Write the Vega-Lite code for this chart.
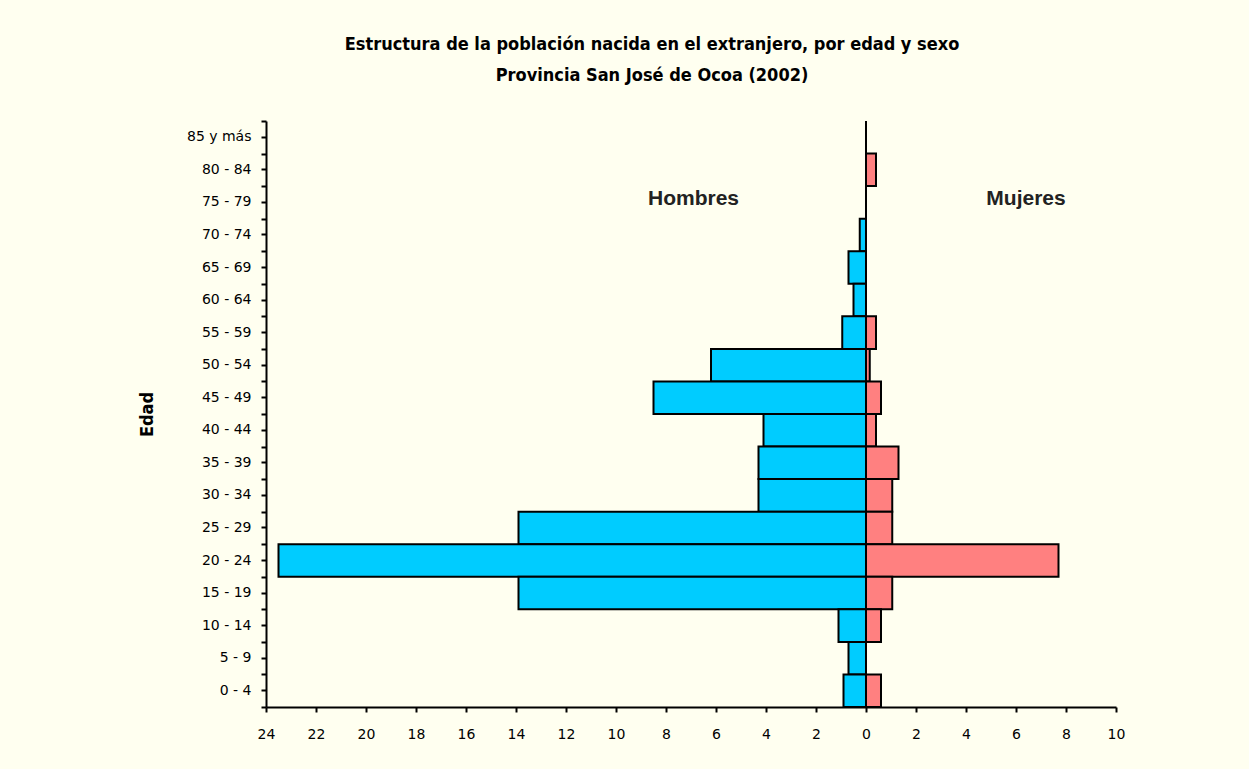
{
  "$schema": "https://vega.github.io/schema/vega-lite/v6.json",
  "autosize": {"type": "none"},
  "width": 850,
  "height": 586,
  "padding": {"left": 266, "top": 121, "right": 133, "bottom": 62},
  "background": "#fffff0",
  "title": {
    "text": ["Estructura de la población nacida en el extranjero, por edad y sexo", "Provincia San José de Ocoa (2002)"],
    "font": "DejaVu Sans Condensed, Roboto",
    "fontSize": 18,
    "fontWeight": "bold",
    "color": "#000000",
    "anchor": "middle",
    "frame": "group",
    "dx": -39,
    "offset": 35,
    "lineHeight": 31
  },
  "config": {
    "view": {"stroke": null, "fill": "#fffff0"},
    "axis": {
      "domainColor": "#000000",
      "domainWidth": 2,
      "tickColor": "#000000",
      "tickWidth": 2,
      "tickSize": 5,
      "labelColor": "#000000",
      "labelFont": "DejaVu Sans",
      "labelFontSize": 14,
      "grid": false
    }
  },
  "data": {
    "values": [
      {"edad": "85 y más", "sexo": "Hombres", "valor": 0},
      {"edad": "85 y más", "sexo": "Mujeres", "valor": 0},
      {"edad": "80 - 84", "sexo": "Hombres", "valor": 0},
      {"edad": "80 - 84", "sexo": "Mujeres", "valor": 0.4},
      {"edad": "75 - 79", "sexo": "Hombres", "valor": 0},
      {"edad": "75 - 79", "sexo": "Mujeres", "valor": 0},
      {"edad": "70 - 74", "sexo": "Hombres", "valor": -0.25},
      {"edad": "70 - 74", "sexo": "Mujeres", "valor": 0},
      {"edad": "65 - 69", "sexo": "Hombres", "valor": -0.7},
      {"edad": "65 - 69", "sexo": "Mujeres", "valor": 0},
      {"edad": "60 - 64", "sexo": "Hombres", "valor": -0.5},
      {"edad": "60 - 64", "sexo": "Mujeres", "valor": 0},
      {"edad": "55 - 59", "sexo": "Hombres", "valor": -0.95},
      {"edad": "55 - 59", "sexo": "Mujeres", "valor": 0.4},
      {"edad": "50 - 54", "sexo": "Hombres", "valor": -6.2},
      {"edad": "50 - 54", "sexo": "Mujeres", "valor": 0.15},
      {"edad": "45 - 49", "sexo": "Hombres", "valor": -8.5},
      {"edad": "45 - 49", "sexo": "Mujeres", "valor": 0.6},
      {"edad": "40 - 44", "sexo": "Hombres", "valor": -4.1},
      {"edad": "40 - 44", "sexo": "Mujeres", "valor": 0.4},
      {"edad": "35 - 39", "sexo": "Hombres", "valor": -4.3},
      {"edad": "35 - 39", "sexo": "Mujeres", "valor": 1.3},
      {"edad": "30 - 34", "sexo": "Hombres", "valor": -4.3},
      {"edad": "30 - 34", "sexo": "Mujeres", "valor": 1.05},
      {"edad": "25 - 29", "sexo": "Hombres", "valor": -13.9},
      {"edad": "25 - 29", "sexo": "Mujeres", "valor": 1.05},
      {"edad": "20 - 24", "sexo": "Hombres", "valor": -23.5},
      {"edad": "20 - 24", "sexo": "Mujeres", "valor": 7.7},
      {"edad": "15 - 19", "sexo": "Hombres", "valor": -13.9},
      {"edad": "15 - 19", "sexo": "Mujeres", "valor": 1.05},
      {"edad": "10 - 14", "sexo": "Hombres", "valor": -1.1},
      {"edad": "10 - 14", "sexo": "Mujeres", "valor": 0.6},
      {"edad": "5 - 9", "sexo": "Hombres", "valor": -0.7},
      {"edad": "5 - 9", "sexo": "Mujeres", "valor": 0},
      {"edad": "0 - 4", "sexo": "Hombres", "valor": -0.9},
      {"edad": "0 - 4", "sexo": "Mujeres", "valor": 0.6}
    ]
  },
  "resolve": {"axis": {"y": "independent"}},
  "layer": [
    {
      "mark": {"type": "bar", "stroke": "#000000", "strokeWidth": 2},
      "encoding": {
        "y": {
          "field": "edad",
          "type": "nominal",
          "scale": {
            "domain": ["85 y más", "80 - 84", "75 - 79", "70 - 74", "65 - 69", "60 - 64", "55 - 59", "50 - 54", "45 - 49", "40 - 44", "35 - 39", "30 - 34", "25 - 29", "20 - 24", "15 - 19", "10 - 14", "5 - 9", "0 - 4"],
            "paddingInner": 0,
            "paddingOuter": 0
          },
          "axis": {
            "orient": "left",
            "title": "Edad",
            "titleFont": "DejaVu Sans Condensed, Roboto",
            "titleFontSize": 18,
            "titleFontWeight": "bold",
            "titleColor": "#000000",
            "titlePadding": 30,
            "labelPadding": 10
          }
        },
        "x": {
          "field": "valor",
          "type": "quantitative",
          "stack": null,
          "scale": {"domain": [-24, 10], "nice": false, "zero": false},
          "axis": {
            "title": null,
            "values": [-24, -22, -20, -18, -16, -14, -12, -10, -8, -6, -4, -2, 0, 2, 4, 6, 8, 10],
            "labelExpr": "'' + abs(datum.value)",
            "labelFlush": false,
            "labelPadding": 15
          }
        },
        "color": {
          "field": "sexo",
          "type": "nominal",
          "scale": {"domain": ["Hombres", "Mujeres"], "range": ["#00ccff", "#ff8080"]},
          "legend": null
        }
      }
    },
    {
      "data": {
        "values": [
          {"etiqueta": "Hombres", "pos": -6.9, "edad": "75 - 79"},
          {"etiqueta": "Mujeres", "pos": 6.4, "edad": "75 - 79"}
        ]
      },
      "mark": {"type": "text", "font": "Liberation Sans", "fontSize": 21, "fontWeight": "bold", "color": "#222222", "dy": -3},
      "encoding": {
        "x": {"field": "pos", "type": "quantitative"},
        "y": {
          "field": "edad",
          "type": "nominal",
          "axis": {"orient": "left", "tickBand": "extent", "labels": false, "domain": false, "title": null}
        },
        "text": {"field": "etiqueta"}
      }
    }
  ]
}
